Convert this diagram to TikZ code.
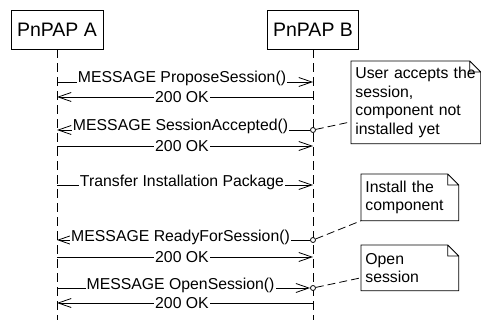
\documentclass[tikz,border=0pt]{standalone}
\usepackage{fontspec}
\setmainfont{Liberation Sans}
\usetikzlibrary{arrows.meta}

% outline of a note with a folded corner
\newcommand\notefold[1]{%
  \draw (#1.north west) -- ([xshift=-11]#1.north east) -- ([yshift=-11]#1.north east)
    -- (#1.south east) -- (#1.south west) -- cycle
    ([xshift=-11]#1.north east) |- ([yshift=-11]#1.north east);}

\begin{document}
\begin{tikzpicture}[x=1pt, y=-1pt, line width=0.8pt,
    actor/.style={draw, minimum width=92, minimum height=39, inner sep=0pt,
      font=\fontsize{19.5}{23}\selectfont},
    lifeline/.style={dash pattern=on 9pt off 5pt},
    msg/.style={-{Straight Barb[length=13pt,width=9pt]}},
    req/.style={anchor=base, yshift=-1pt, xshift=-3pt, fill=white, inner sep=1pt,
      font=\fontsize{15.8}{18}\selectfont},
    ok/.style={fill=white, inner sep=1pt, xshift=-3pt, font=\fontsize{15.8}{18}\selectfont},
    dot/.style={circle, draw, fill=white, inner sep=0pt, minimum size=5pt},
    note/.style={anchor=north west, align=left, inner xsep=4pt, inner ysep=2pt,
      font=\fontsize{15.8}{18.5}\selectfont},
    link/.style={dash pattern=on 8pt off 4pt}]
    \useasboundingbox (0,0) rectangle (481,320);

    \node[actor] (A) at (57,29.5) {PnPAP A};
    \node[actor, minimum width=91] (B) at (313,29.5) {PnPAP B};
    \coordinate (aEnd) at (A.south |- 0,320);
    \coordinate (bEnd) at (B.south |- 0,320);
    \draw[lifeline] (A.south) -- (aEnd);
    \draw[lifeline] (B.south) -- (bEnd);

    % message levels on both lifelines
    \foreach \k/\y in {1/82,2/97,3/130,4/146,5/185,6/240,7/257,8/288,9/303}{
      \coordinate (a\k) at (A.south |- 0,\y);
      \coordinate (b\k) at (B.south |- 0,\y);
    }
    \node[dot] (c1) at (b3) {};
    \node[dot] (c2) at (b6) {};
    \node[dot] (c3) at (b8) {};

    \draw[msg] (a1) -- node[req] {MESSAGE ProposeSession()} (b1);
    \draw[msg] (b2) -- node[ok] {200 OK} (a2);
    \draw[msg] (c1) -- node[req] {MESSAGE SessionAccepted()} (a3);
    \draw[msg] (a4) -- node[ok] {200 OK} (b4);
    \draw[msg] (a5) -- node[req] {Transfer Installation Package} (b5);
    \draw[msg] (c2) -- node[req] {MESSAGE ReadyForSession()} (a6);
    \draw[msg] (a7) -- node[ok] {200 OK} (b7);
    \draw[msg] (a8) -- node[req] {MESSAGE OpenSession()} (c3);
    \draw[msg] (b9) -- node[ok] {200 OK} (a9);

    % notes
    \node[note, text width=121, minimum height=82] (n1) at (351,61)
      {User accepts the\\session,\\component not\\installed yet};
    \node[note, text width=89, minimum height=46] (n2) at (361,174)
      {Install the\\component};
    \node[note, text width=89, minimum height=45] (n3) at (361,245)
      {Open\\session};
    \notefold{n1}
    \notefold{n2}
    \notefold{n3}
    \draw[link] (c1) -- ([yshift=22]n1.south west);
    \draw[link] (c2) -- (n2.south west);
    \draw[link] (c3) -- ([yshift=13]n3.south west);
\end{tikzpicture}
\end{document}
